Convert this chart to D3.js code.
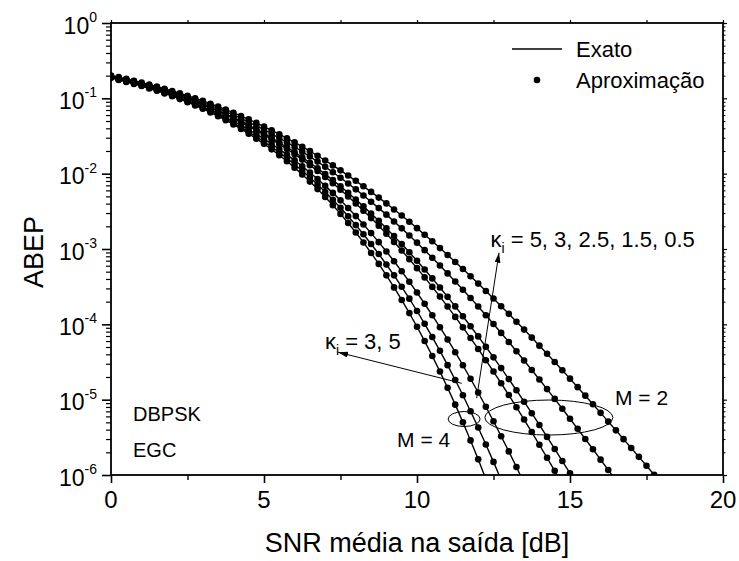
<!DOCTYPE html>
<html>
<head>
<meta charset="utf-8">
<script src="https://cdn.jsdelivr.net/npm/d3@7"></script>
<style>
  body { margin: 0; background: #fff; }
  text { font-family: "Liberation Sans", Arial, sans-serif; fill: #000; }
</style>
</head>
<body>
<svg id="abep-chart" width="739" height="561"></svg>
<script>
// SNR grid of the markers (dB)
const snrDb = [0,0.25,0.5,0.75,1,1.25,1.5,1.75,2,2.25,2.5,2.75,3,3.25,3.5,3.75,4,4.25,4.5,4.75,
  5,5.25,5.5,5.75,6,6.25,6.5,6.75,7,7.25,7.5,7.75,8,8.25,8.5,8.75,9,9.25,9.5,9.75,
  10,10.25,10.5,10.75,11,11.25,11.5,11.75,12,12.25,12.5,12.75,13,13.25,13.5,13.75,
  14,14.25,14.5,14.75,15,15.25,15.5,15.75,16,16.25,16.5,16.75,17,17.25,17.5,17.75,18];

// ABEP, stored as log10 values (one entry per marker)
const logM4k5 = [-0.728,-0.755,-0.782,-0.809,-0.836,-0.870,-0.900,-0.935,-0.971,-1.010,-1.051,-1.094,
  -1.139,-1.187,-1.237,-1.291,-1.347,-1.406,-1.469,-1.535,-1.604,-1.677,-1.755,-1.836,
  -1.921,-2.011,-2.105,-2.205,-2.309,-2.419,-2.534,-2.655,-2.781,-2.913,-3.053,-3.198,
  -3.350,-3.510,-3.676,-3.851,-4.032,-4.222,-4.420,-4.627,-4.842,-5.066,-5.299,-5.541,-5.792,-6.054];
const logM4k3 = [-0.725,-0.750,-0.775,-0.802,-0.831,-0.861,-0.893,-0.927,-0.963,-1.000,-1.040,-1.082,
  -1.127,-1.173,-1.222,-1.274,-1.329,-1.386,-1.446,-1.509,-1.576,-1.646,-1.719,-1.797,
  -1.878,-1.962,-2.052,-2.145,-2.243,-2.346,-2.453,-2.566,-2.683,-2.805,-2.933,-3.066,
  -3.206,-3.350,-3.502,-3.659,-3.823,-3.993,-4.169,-4.352,-4.542,-4.739,-4.942,-5.153,
  -5.370,-5.595,-5.826,-6.066];
const logM2k5 = [-0.720,-0.744,-0.770,-0.797,-0.825,-0.854,-0.885,-0.918,-0.953,-0.990,-1.028,-1.069,
  -1.111,-1.155,-1.203,-1.252,-1.304,-1.359,-1.416,-1.476,-1.539,-1.605,-1.674,-1.747,
  -1.823,-1.902,-1.985,-2.071,-2.162,-2.255,-2.354,-2.456,-2.563,-2.674,-2.789,-2.909,
  -3.033,-3.162,-3.296,-3.435,-3.578,-3.727,-3.880,-4.038,-4.201,-4.370,-4.543,-4.722,
  -4.905,-5.094,-5.287,-5.485,-5.687,-5.894,-6.109];
const logM2k3 = [-0.714,-0.737,-0.761,-0.787,-0.814,-0.843,-0.873,-0.904,-0.937,-0.971,-1.008,-1.046,
  -1.086,-1.128,-1.172,-1.219,-1.267,-1.317,-1.371,-1.426,-1.484,-1.544,-1.607,-1.673,
  -1.741,-1.813,-1.887,-1.964,-2.044,-2.127,-2.213,-2.302,-2.395,-2.491,-2.590,-2.692,
  -2.798,-2.907,-3.019,-3.135,-3.254,-3.377,-3.503,-3.632,-3.764,-3.901,-4.040,-4.182,
  -4.327,-4.476,-4.627,-4.782,-4.939,-5.100,-5.264,-5.430,-5.599,-5.771,-5.944,-6.121];
const logM2k25 = [-0.711,-0.734,-0.758,-0.783,-0.810,-0.838,-0.868,-0.899,-0.931,-0.965,-1.001,-1.038,
  -1.078,-1.119,-1.163,-1.208,-1.255,-1.304,-1.356,-1.409,-1.466,-1.524,-1.586,-1.649,
  -1.715,-1.784,-1.855,-1.929,-2.006,-2.086,-2.168,-2.254,-2.342,-2.434,-2.528,-2.625,
  -2.725,-2.829,-2.935,-3.044,-3.156,-3.272,-3.390,-3.511,-3.635,-3.762,-3.892,-4.025,
  -4.160,-4.298,-4.438,-4.581,-4.727,-4.875,-5.027,-5.180,-5.336,-5.494,-5.654,-5.815,
  -5.979,-6.146];
const logM2k15 = [-0.705,-0.727,-0.750,-0.774,-0.800,-0.827,-0.855,-0.885,-0.916,-0.948,-0.982,-1.017,
  -1.055,-1.094,-1.134,-1.177,-1.221,-1.267,-1.315,-1.365,-1.417,-1.471,-1.527,-1.585,
  -1.645,-1.708,-1.773,-1.840,-1.909,-1.981,-2.054,-2.130,-2.208,-2.289,-2.372,-2.457,
  -2.544,-2.634,-2.726,-2.820,-2.916,-3.015,-3.116,-3.219,-3.324,-3.431,-3.540,-3.651,
  -3.764,-3.879,-3.996,-4.114,-4.234,-4.357,-4.480,-4.606,-4.732,-4.860,-4.990,-5.121,
  -5.253,-5.387,-5.522,-5.658,-5.796,-5.934,-6.074];
const logM2k05 = [-0.698,-0.719,-0.742,-0.766,-0.791,-0.817,-0.844,-0.872,-0.902,-0.933,-0.965,-0.999,
  -1.034,-1.071,-1.110,-1.150,-1.191,-1.235,-1.279,-1.326,-1.374,-1.425,-1.476,-1.530,
  -1.585,-1.642,-1.701,-1.762,-1.825,-1.890,-1.956,-2.025,-2.095,-2.168,-2.242,-2.318,
  -2.395,-2.475,-2.556,-2.639,-2.723,-2.810,-2.898,-2.988,-3.079,-3.172,-3.266,-3.362,
  -3.459,-3.558,-3.658,-3.759,-3.861,-3.965,-4.070,-4.176,-4.283,-4.391,-4.500,-4.610,
  -4.721,-4.834,-4.947,-5.061,-5.175,-5.291,-5.407,-5.524,-5.641,-5.759,-5.878,-5.997,-6.117];

const curves = [logM4k5, logM4k3, logM2k5, logM2k3, logM2k25, logM2k15, logM2k05];

// axis ticks
const xMajorTicks = [0, 5, 10, 15, 20];
const xMinorTicks = [2.5, 7.5, 12.5, 17.5];
const yDecades = [0, -1, -2, -3, -4, -5, -6];

const svg = d3.select("#abep-chart");

const plot = { left: 111, right: 723, top: 23, bottom: 475 };

const x = d3.scaleLinear().domain([0, 20]).range([plot.left, plot.right]);
const y = d3.scaleLog().domain([1e-6, 1]).range([plot.bottom, plot.top]);

const yMajor = yDecades.map(e => Math.pow(10, e));
const yMinor = [];
yDecades.slice(1).forEach(e => {
  for (let k = 2; k <= 9; k++) yMinor.push(k * Math.pow(10, e));
});

function styleTicks(g, w) {
  g.select(".domain").remove();
  g.selectAll(".tick line").attr("stroke", "#000").attr("stroke-width", w);
}

// bottom axis
svg.append("g")
  .attr("transform", `translate(0,${plot.bottom})`)
  .call(d3.axisBottom(x).tickValues(xMajorTicks).tickSize(8).tickFormat(""))
  .call(g => styleTicks(g, 1.6));
svg.append("g")
  .attr("transform", `translate(0,${plot.bottom})`)
  .call(d3.axisBottom(x).tickValues(xMinorTicks).tickSize(5).tickFormat(""))
  .call(g => styleTicks(g, 1.4));

// top axis
svg.append("g")
  .attr("transform", `translate(0,${plot.top})`)
  .call(d3.axisTop(x).tickValues(xMajorTicks.concat(xMinorTicks)).tickSize(3).tickFormat(""))
  .call(g => styleTicks(g, 1.2));

// left axis
svg.append("g")
  .attr("transform", `translate(${plot.left},0)`)
  .call(d3.axisLeft(y).tickValues(yMajor).tickSize(9).tickFormat(""))
  .call(g => styleTicks(g, 1.6));
svg.append("g")
  .attr("transform", `translate(${plot.left},0)`)
  .call(d3.axisLeft(y).tickValues(yMinor).tickSize(5).tickFormat(""))
  .call(g => styleTicks(g, 1.2));

// right axis
svg.append("g")
  .attr("transform", `translate(${plot.right},0)`)
  .call(d3.axisRight(y).tickValues(yMajor).tickSize(4).tickFormat(""))
  .call(g => styleTicks(g, 1.2));
svg.append("g")
  .attr("transform", `translate(${plot.right},0)`)
  .call(d3.axisRight(y).tickValues(yMinor).tickSize(2.5).tickFormat(""))
  .call(g => styleTicks(g, 1));

// frame
svg.append("rect")
  .attr("x", plot.left)
  .attr("y", plot.top)
  .attr("width", plot.right - plot.left)
  .attr("height", plot.bottom - plot.top)
  .attr("fill", "none")
  .attr("stroke", "#000")
  .attr("stroke-width", 1.8);

// x tick labels
svg.selectAll("text.xlab")
  .data(xMajorTicks)
  .enter()
  .append("text")
  .attr("class", "xlab")
  .attr("x", d => x(d))
  .attr("y", plot.bottom + 33)
  .attr("text-anchor", "middle")
  .style("font-size", "24px")
  .text(d => d);

// y tick labels 10^n
const ylab = svg.selectAll("text.ylab")
  .data(yDecades)
  .enter()
  .append("text")
  .attr("class", "ylab")
  .attr("x", plot.left - 14)
  .attr("y", d => y(Math.pow(10, d)) + 10.5)
  .attr("text-anchor", "end")
  .style("font-size", "23px");
ylab.append("tspan").text("10");
ylab.append("tspan")
  .attr("dy", -11.5)
  .style("font-size", "14px")
  .text(d => d === 0 ? "0" : "-" + Math.abs(d));

// axis titles
svg.append("text")
  .attr("x", (plot.left + plot.right) / 2)
  .attr("y", 552)
  .attr("text-anchor", "middle")
  .style("font-size", "27px")
  .text("SNR média na saída [dB]");

svg.append("text")
  .attr("transform", `translate(43,${(plot.top + plot.bottom) / 2 + 3}) rotate(-90)`)
  .attr("text-anchor", "middle")
  .style("font-size", "27px")
  .text("ABEP");

// curves
svg.append("clipPath")
  .attr("id", "plot-clip")
  .append("rect")
  .attr("x", plot.left)
  .attr("y", plot.top)
  .attr("width", plot.right - plot.left)
  .attr("height", plot.bottom - plot.top);

const line = d3.line()
  .x((d, i) => x(snrDb[i]))
  .y(d => y(Math.pow(10, d)));

const curveLayer = svg.append("g").attr("clip-path", "url(#plot-clip)");

curveLayer.selectAll("path.exact")
  .data(curves)
  .enter()
  .append("path")
  .attr("class", "exact")
  .attr("d", line)
  .attr("fill", "none")
  .attr("stroke", "#000")
  .attr("stroke-width", 1.4);

curves.forEach(c => {
  curveLayer.append("g")
    .selectAll("circle")
    .data(c)
    .enter()
    .append("circle")
    .attr("cx", (d, i) => x(snrDb[i]))
    .attr("cy", d => y(Math.pow(10, d)))
    .attr("r", 3.3)
    .attr("fill", "#000");
});

// legend
svg.append("line")
  .attr("x1", 512).attr("x2", 562)
  .attr("y1", 49).attr("y2", 49)
  .attr("stroke", "#000")
  .attr("stroke-width", 1.5);
svg.append("text")
  .attr("x", 576).attr("y", 57)
  .style("font-size", "22px")
  .text("Exato");
svg.append("circle")
  .attr("cx", 537).attr("cy", 80)
  .attr("r", 3.3)
  .attr("fill", "#000");
svg.append("text")
  .attr("x", 576).attr("y", 88)
  .style("font-size", "22px")
  .text("Aproximação");

// ellipses around the M groups
svg.append("ellipse")
  .attr("cx", x(14.31)).attr("cy", y(Math.pow(10, -5.237)))
  .attr("rx", 64).attr("ry", 17.5)
  .attr("fill", "none").attr("stroke", "#000").attr("stroke-width", 1);
svg.append("ellipse")
  .attr("cx", x(11.54)).attr("cy", y(Math.pow(10, -5.257)))
  .attr("rx", 16).attr("ry", 7.5)
  .attr("fill", "none").attr("stroke", "#000").attr("stroke-width", 1);

// arrows
svg.append("defs").append("marker")
  .attr("id", "head")
  .attr("viewBox", "0 0 10 6")
  .attr("refX", 10).attr("refY", 3)
  .attr("markerWidth", 10).attr("markerHeight", 6)
  .attr("markerUnits", "userSpaceOnUse")
  .attr("orient", "auto")
  .append("path")
  .attr("d", "M0,0 L10,3 L0,6 Z")
  .attr("fill", "#000");

svg.append("line")
  .attr("x1", x(11.95)).attr("y1", y(Math.pow(10, -4.98)))
  .attr("x2", x(12.68)).attr("y2", y(Math.pow(10, -3.05)))
  .attr("stroke", "#000").attr("stroke-width", 1)
  .attr("marker-end", "url(#head)");
svg.append("line")
  .attr("x1", x(11.46)).attr("y1", y(Math.pow(10, -4.783)))
  .attr("x2", x(7.42)).attr("y2", y(Math.pow(10, -4.37)))
  .attr("stroke", "#000").attr("stroke-width", 1)
  .attr("marker-end", "url(#head)");

// annotation texts
function kappaLabel(px, py, rest) {
  const t = svg.append("text")
    .attr("x", px).attr("y", py)
    .style("font-size", "22px");
  t.append("tspan").text("κ");
  t.append("tspan").attr("dy", 6).style("font-size", "14px").text("i");
  t.append("tspan").attr("dy", -6).text(rest);
}
kappaLabel(x(12.4), y(Math.pow(10, -2.974)), " = 5, 3, 2.5, 1.5, 0.5");
kappaLabel(x(6.99), y(Math.pow(10, -4.328)), " = 3, 5");

svg.append("text")
  .attr("x", x(16.47)).attr("y", y(Math.pow(10, -5.071)))
  .style("font-size", "21px")
  .text("M = 2");
svg.append("text")
  .attr("x", x(9.35)).attr("y", y(Math.pow(10, -5.629)))
  .style("font-size", "21px")
  .text("M = 4");

svg.append("text")
  .attr("x", x(0.72)).attr("y", y(Math.pow(10, -5.283)))
  .style("font-size", "20px")
  .text("DBPSK");
svg.append("text")
  .attr("x", x(0.72)).attr("y", y(Math.pow(10, -5.761)))
  .style("font-size", "20px")
  .text("EGC");
</script>
</body>
</html>
